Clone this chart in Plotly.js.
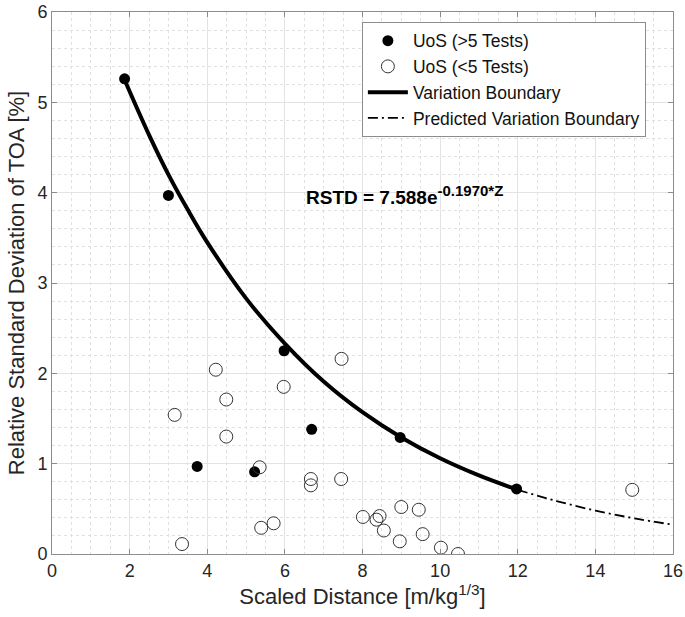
<!DOCTYPE html>
<html><head><meta charset="utf-8">
<script src="https://cdn.plot.ly/plotly-3.0.1.min.js"></script>
<style>html,body{margin:0;padding:0;background:#fff}#chart{width:685px;height:617px}</style>
</head><body><div id="chart"></div>
<script>
// UoS (>5 Tests)
const fullX = [1.87, 3.0, 3.74, 5.22, 5.98, 6.69, 8.97, 11.97];
const fullY = [5.26, 3.97, 0.97, 0.91, 2.25, 1.38, 1.29, 0.72];
// UoS (<5 Tests)
const openX = [3.16, 3.35, 4.22, 4.49, 4.49, 5.35, 5.39, 5.71, 5.97, 6.67, 6.67, 7.46, 7.45, 8.01, 8.36, 8.44, 8.55, 9.0, 9.45, 8.96, 9.55, 10.02, 10.46, 14.95];
const openY = [1.54, 0.11, 2.04, 1.71, 1.30, 0.96, 0.29, 0.34, 1.85, 0.83, 0.76, 2.16, 0.83, 0.41, 0.38, 0.42, 0.26, 0.52, 0.49, 0.14, 0.22, 0.07, 0.0, 0.71];
// Variation Boundary
const boundX = [1.9, 2.5, 3, 3.5, 4, 5, 6, 7, 8, 9, 10, 11, 12];
const boundY = [5.22, 4.64, 4.20, 3.81, 3.45, 2.83, 2.33, 1.91, 1.57, 1.29, 1.06, 0.87, 0.71];
// Predicted Variation Boundary
const predX = [12, 13, 14, 15, 16];
const predY = [0.71, 0.586, 0.481, 0.395, 0.324];
const xTicks = [0, 2, 4, 6, 8, 10, 12, 14, 16];
const yTicks = [0, 1, 2, 3, 4, 5, 6];
const eqText = '<b>RSTD = 7.588e<sup><span style="font-size:15px">-0.1970*Z</span></sup></b>';

const FONT = 'Liberation Sans, Arial, Helvetica, sans-serif';
const TXT = '#262626';

const traces = [
  {x: boundX, y: boundY, mode: 'lines', name: 'Variation Boundary', legendrank: 3,
   line: {color: '#000', width: 4, shape: 'spline'}},
  {x: predX, y: predY, mode: 'lines', name: 'Predicted Variation Boundary', legendrank: 4,
   line: {color: '#000', width: 1.8, dash: '10px,4px,2px,4px', shape: 'spline'}},
  {x: fullX, y: fullY, mode: 'markers', name: 'UoS (>5 Tests)', legendrank: 1,
   marker: {color: '#000', size: 11, symbol: 'circle'}},
  {x: openX, y: openY, mode: 'markers', name: 'UoS (<5 Tests)', legendrank: 2,
   marker: {color: '#333', size: 13, symbol: 'circle-open', line: {color: '#333', width: 1}}}
];

const axisCommon = {
  showline: true, linecolor: '#8c8c8c', linewidth: 1, mirror: 'ticks',
  ticks: 'inside', ticklen: 5, tickcolor: '#8c8c8c',
  showgrid: true, gridcolor: '#e3e3e3', gridwidth: 1,
  zeroline: false, tickfont: {family: FONT, size: 18, color: TXT}
};

const layout = {
  width: 685, height: 617,
  margin: {l: 52, r: 12, t: 12, b: 63},
  paper_bgcolor: '#fff', plot_bgcolor: '#fff',
  font: {family: FONT, color: TXT},
  showlegend: true,
  legend: {x: 0.499, y: 0.982, xanchor: 'left', yanchor: 'top',
    bgcolor: '#fff', bordercolor: '#8c8c8c', borderwidth: 1,
    font: {family: FONT, size: 17.5, color: '#111'}, tracegroupgap: 0, itemwidth: 40},
  xaxis: Object.assign({}, axisCommon, {
    range: [0, 16], tickvals: xTicks, ticktext: xTicks.map(String),
    minor: {dtick: 0.5, showgrid: true, gridcolor: '#e0e0e0', griddash: 'dot', gridwidth: 1, ticks: ''},
    title: {text: 'Scaled Distance [m/kg<sup>1/3</sup>]', font: {family: FONT, size: 22, color: TXT}, standoff: 2}
  }),
  yaxis: Object.assign({}, axisCommon, {
    range: [0, 6], tickvals: yTicks, ticktext: yTicks.map(String),
    minor: {dtick: 0.2, showgrid: true, gridcolor: '#e0e0e0', griddash: 'dot', gridwidth: 1, ticks: ''},
    title: {text: 'Relative Standard Deviation of TOA [%]', font: {family: FONT, size: 22, color: TXT}, standoff: 6}
  }),
  annotations: [{
    x: 6.5, y: 3.97, xref: 'x', yref: 'y', xanchor: 'left', yanchor: 'middle',
    text: eqText, showarrow: false, font: {family: FONT, size: 19, color: '#000'}
  }]
};

Plotly.newPlot('chart', traces, layout, {displayModeBar: false, staticPlot: true});
</script></body></html>
